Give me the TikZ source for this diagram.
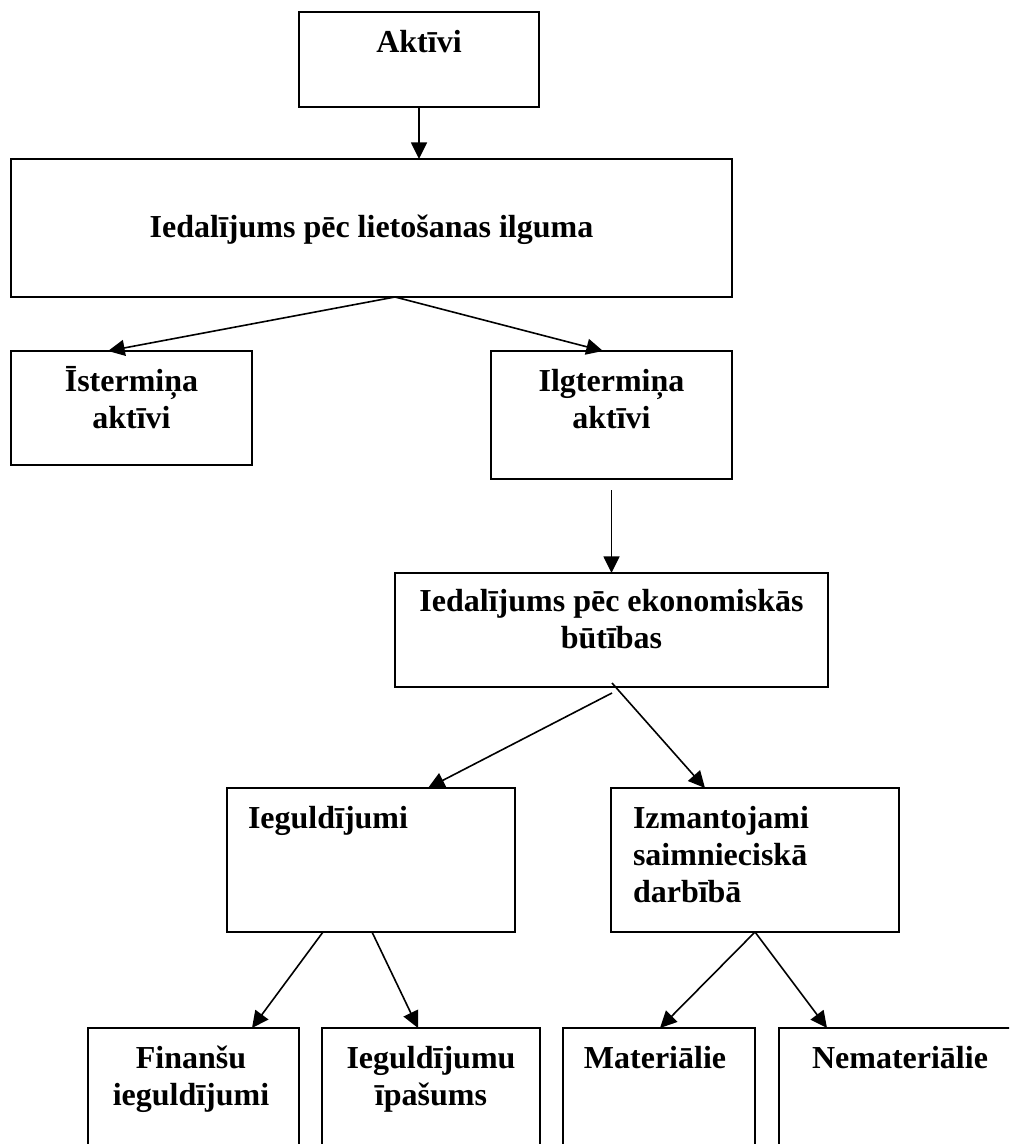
\documentclass[tikz,border=0pt]{standalone}
\usepackage{fontspec}
\setmainfont{Liberation Serif}
\usetikzlibrary{arrows.meta,calc}
\tikzset{
  boxst/.style={draw, line width=1.5pt, inner sep=0pt, outer sep=0pt, fill=none},
  txt/.style={font=\bfseries\fontsize{24pt}{27.75pt}\selectfont, inner sep=0pt, outer sep=0pt},
  arr/.style={line width=1.2pt, -{Triangle[length=12.5pt,width=12pt]}}
}
\newcommand\mybox[5]{\node[boxst, minimum width={(#4-#2)*0.75pt}, minimum height={(#5-#3)*0.75pt}] (#1) at ({(#2+#4)/2},{(#3+#5)/2}) {};}
\begin{document}
\begin{tikzpicture}[x=0.75pt,y=-0.75pt]
\useasboundingbox (0,0) rectangle (1009,1144);
\clip (0,0) rectangle (1009,1144);
% boxes
\mybox{a}{299}{12}{539}{107}
\mybox{b}{11}{159}{732}{297}
\mybox{is}{11}{351}{252}{465}
\mybox{il}{491}{351}{732}{479}
\mybox{c}{395}{573}{828}{687}
\mybox{ie}{227}{788}{515}{932}
\mybox{iz}{611}{788}{899}{932}
\mybox{fi}{88}{1028}{299}{1175}
\mybox{ip}{322}{1028}{540}{1175}
\mybox{ma}{563}{1028}{755}{1175}
\mybox{ne}{779}{1028}{1021}{1175}
% texts
\node[txt, anchor=base] (ta) at (419,53) {Aktīvi};
\node[txt, anchor=base] (tb) at (371.5,238) {Iedalījums pēc lietošanas ilguma};
\node[txt, anchor=base] (tis1) at (131.5,391) {Īstermiņa};
\node[txt, anchor=base] (tis2) at (131.5,428) {aktīvi};
\node[txt, anchor=base] (til1) at (611.5,391) {Ilgtermiņa};
\node[txt, anchor=base] (til2) at (611.5,428) {aktīvi};
\node[txt, anchor=base] (tc1) at (611.5,611) {Iedalījums pēc ekonomiskās};
\node[txt, anchor=base] (tc2) at (611.5,648) {būtības};
\node[txt, anchor=base west] (tie) at (248,828) {Ieguldījumi};
\node[txt, anchor=base west] (tiz1) at (633,828) {Izmantojami};
\node[txt, anchor=base west] (tiz2) at (633,865) {saimnieciskā};
\node[txt, anchor=base west] (tiz3) at (633,902) {darbībā};
\node[txt, anchor=base] (tfi1) at (191,1068) {Finanšu};
\node[txt, anchor=base] (tfi2) at (191,1105) {ieguldījumi};
\node[txt, anchor=base] (tip1) at (431,1068) {Ieguldījumu};
\node[txt, anchor=base] (tip2) at (431,1105) {īpašums};
\node[txt, anchor=base] (tma) at (655,1068) {Materiālie};
\node[txt, anchor=base] (tne) at (900,1068) {Nemateriālie};
% connectors
\draw[arr] (a.south) -- (a.south |- b.north);
\draw[arr] ($(b.south west)+(384,0)$) -- ($(is.north west)+(97,0)$);
\draw[arr] ($(b.south west)+(384,0)$) -- ($(il.north west)+(112,0)$);
\draw[arr] ($(il.south)+(0,11)$) -- (il.south |- c.north);
\draw[arr] ($(c.south west)+(217,6)$) -- ($(ie.north west)+(201,0)$);
\draw[arr] ($(c.south west)+(217,-4)$) -- ($(iz.north west)+(94,0)$);
\draw[arr] ($(ie.south west)+(96,0)$) -- ($(fi.north west)+(164,0)$);
\draw[arr] ($(ie.south west)+(145,0)$) -- ($(ip.north west)+(96,0)$);
\draw[arr] (iz.south) -- ($(ma.north west)+(97,0)$);
\draw[arr] (iz.south) -- ($(ne.north west)+(48,0)$);
\end{tikzpicture}
\end{document}
